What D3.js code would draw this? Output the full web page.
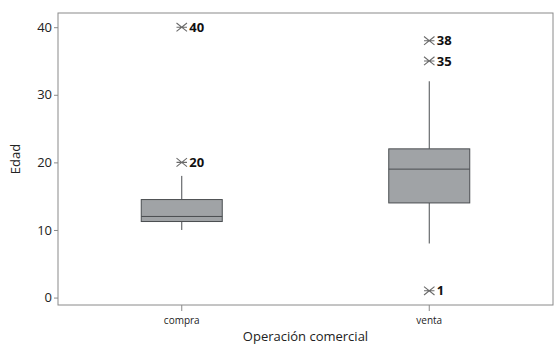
<!DOCTYPE html>
<html>
<head>
<meta charset="utf-8">
<script src="https://cdn.jsdelivr.net/npm/d3@7"></script>
<style>
  body { margin: 0; background: #fff; }
  text { font-family: 'Open Sans', sans-serif; }
</style>
</head>
<body>
<div id="chart"></div>
<script>
const categories = ['compra', 'venta']
const boxStats = [
  { q1: 11.25, median: 12, q3: 14.5, low: 10, high: 18 },
  { q1: 14, median: 19, q3: 22, low: 8, high: 32 },
]
const outliers = [
  { cat: 'compra', value: 40, label: '40' },
  { cat: 'compra', value: 20, label: '20' },
  { cat: 'venta', value: 38, label: '38' },
  { cat: 'venta', value: 35, label: '35' },
  { cat: 'venta', value: 1, label: '1' },
]
const yTicks = [0, 10, 20, 30, 40]

const width = 558
const height = 348
const margin = { top: 13, right: 5, bottom: 43, left: 58 }

const svg = d3.select('#chart').append('svg')
  .attr('width', width)
  .attr('height', height)

const x = d3.scaleBand()
  .domain(categories)
  .range([margin.left, width - margin.right])
  .padding(0)

const y = d3.scaleLinear()
  .domain([-1.1, 42.1])
  .range([height - margin.bottom, margin.top])

// frame
svg.append('rect')
  .attr('x', margin.left)
  .attr('y', margin.top)
  .attr('width', width - margin.left - margin.right)
  .attr('height', height - margin.top - margin.bottom)
  .attr('fill', 'none')
  .attr('stroke', '#8a8a8a')
  .attr('stroke-width', 1)

const yAxis = g => g
  .attr('transform', `translate(${margin.left},0)`)
  .call(d3.axisLeft(y).tickValues(yTicks).tickSize(4).tickPadding(2))
  .call(g => g.select('.domain').remove())
  .call(g => g.selectAll('line').attr('stroke', '#8a8a8a'))
  .call(g => g.selectAll('text').attr('font-size', '13px').attr('fill', '#222'))

const xAxis = g => g
  .attr('transform', `translate(0,${height - margin.bottom})`)
  .call(d3.axisBottom(x).tickSize(6).tickPadding(6))
  .call(g => g.select('.domain').remove())
  .call(g => g.selectAll('line').attr('stroke', '#8a8a8a'))
  .call(g => g.selectAll('text').attr('font-size', '10px').attr('fill', '#222'))

svg.append('g').call(yAxis)
svg.append('g').call(xAxis)

// axis titles
svg.append('text')
  .attr('x', (margin.left + width - margin.right) / 2)
  .attr('y', 341)
  .attr('text-anchor', 'middle')
  .attr('font-size', '13px')
  .attr('fill', '#222')
  .text('Operación comercial')

svg.append('text')
  .attr('transform', `translate(20,${(margin.top + height - margin.bottom) / 2}) rotate(-90)`)
  .attr('text-anchor', 'middle')
  .attr('font-size', '13px')
  .attr('fill', '#222')
  .text('Edad')

// boxes
const boxW = 81
const box = svg.append('g')
  .selectAll('g')
  .data(boxStats)
  .join('g')
  .attr('transform', (d, i) => `translate(${x(categories[i]) + x.bandwidth() / 2},0)`)

box.append('line')
  .attr('x1', 0).attr('x2', 0)
  .attr('y1', d => y(d.high))
  .attr('y2', d => y(d.q3))
  .attr('stroke', '#4a4d50')
  .attr('stroke-width', 1)

box.append('line')
  .attr('x1', 0).attr('x2', 0)
  .attr('y1', d => y(d.q1))
  .attr('y2', d => y(d.low))
  .attr('stroke', '#4a4d50')
  .attr('stroke-width', 1)

box.append('rect')
  .attr('x', -boxW / 2)
  .attr('y', d => y(d.q3))
  .attr('width', boxW)
  .attr('height', d => y(d.q1) - y(d.q3))
  .attr('fill', '#a0a3a6')
  .attr('stroke', '#4a4d50')
  .attr('stroke-width', 1)

box.append('line')
  .attr('x1', -boxW / 2).attr('x2', boxW / 2)
  .attr('y1', d => y(d.median))
  .attr('y2', d => y(d.median))
  .attr('stroke', '#4a4d50')
  .attr('stroke-width', 1)

// outliers: x-cross with a horizontal bar
const starType = {
  draw(ctx, size) {
    const w = Math.sqrt(size) / 2
    const h = w * 0.8
    ctx.moveTo(-w, 0); ctx.lineTo(w, 0)
    ctx.moveTo(-w, -h); ctx.lineTo(w, h)
    ctx.moveTo(-w, h); ctx.lineTo(w, -h)
  }
}
const star = d3.symbol().type(starType).size(110)
const out = svg.append('g')
  .selectAll('g')
  .data(outliers)
  .join('g')
  .attr('transform', d => `translate(${x(d.cat) + x.bandwidth() / 2},${y(d.value)})`)

out.append('path')
  .attr('d', star)
  .attr('fill', 'none')
  .attr('stroke', '#6a6a6a')
  .attr('stroke-width', 1.1)

out.append('text')
  .attr('x', 7.5)
  .attr('dy', '0.36em')
  .attr('font-size', '13px')
  .attr('font-weight', 'bold')
  .attr('fill', '#111')
  .text(d => d.label)
</script>
</body>
</html>
